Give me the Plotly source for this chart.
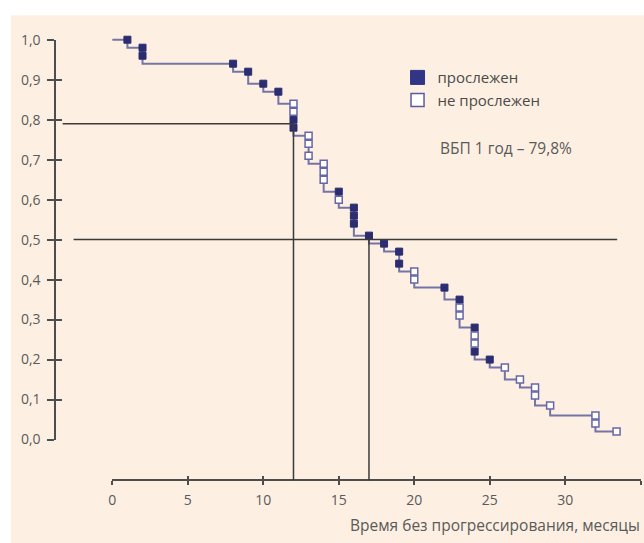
import plotly.graph_objects as go

# ---------------- data ----------------
# Kaplan-Meier step curve: time (months) and survival level after each step
curve_t = [0, 1, 2, 8, 9, 10, 11, 12, 13, 14, 15, 16, 17, 18, 19, 20, 22, 23, 24, 25, 26, 27, 28, 29, 32, 33.4]
curve_s = [1.00, 0.98, 0.94, 0.92, 0.89, 0.87, 0.84, 0.76, 0.69, 0.62, 0.58, 0.51, 0.49, 0.47, 0.42, 0.38,
           0.35, 0.28, 0.20, 0.18, 0.15, 0.13, 0.085, 0.06, 0.02, 0.02]

# "прослежен" (filled squares)
event_t = [1, 2, 2, 8, 9, 10, 11, 12, 12, 15, 16, 16, 16, 17, 18, 19, 19, 22, 23, 24, 24, 25]
event_s = [1.00, 0.98, 0.96, 0.94, 0.92, 0.89, 0.87, 0.80, 0.78, 0.62, 0.58, 0.56, 0.54, 0.51, 0.49,
           0.47, 0.44, 0.38, 0.35, 0.28, 0.22, 0.20]

# "не прослежен" (open squares)
cens_t = [12, 12, 13, 13, 13, 14, 14, 14, 15, 20, 20, 23, 23, 24, 24, 26, 27, 28, 28, 29, 32, 32, 33.4]
cens_s = [0.84, 0.82, 0.76, 0.74, 0.71, 0.69, 0.67, 0.65, 0.60, 0.42, 0.40, 0.33, 0.31, 0.26, 0.24,
          0.18, 0.15, 0.13, 0.11, 0.085, 0.06, 0.04, 0.02]

# reference values
one_year_t = 12
one_year_s = 0.79
median_t = 17
median_s = 0.5

x_tick_vals = [0, 5, 10, 15, 20, 25, 30, 35]
x_tick_labels = ["0", "5", "10", "15", "20", "25", "30", "35"]
y_tick_vals = [0.0, 0.1, 0.2, 0.3, 0.4, 0.5, 0.6, 0.7, 0.8, 0.9, 1.0]
y_tick_labels = ["0,0", "0,1", "0,2", "0,3", "0,4", "0,5", "0,6", "0,7", "0,8", "0,9", "1,0"]

legend_names = ["прослежен", "не прослежен"]
note_text = "ВБП 1 год – 79,8%"
x_title = "Время без прогрессирования, месяцы"

# ---------------- layout geometry (pixels) ----------------
W, H = 644, 543
# the captured page shows rows with a small offset/compression; map target rows to figure rows
CAP_OFF, CAP_SCALE = 7.8, 0.971


def row(d):
    return (d - CAP_OFF) / CAP_SCALE


X0_PX, X35_PX = 109.0, 640.7              # pixel of t=0 and t=35
Y1_PX, Y0_PX = row(37.7), row(440.0)      # pixel of S=1 and S=0
XAXIS_PX = row(481.0)                     # x-axis line (pixel row)
YAXIS_PX = 51.5                           # y-axis line (pixel column)
xu = (X35_PX - X0_PX) / 35.0
yu = (Y0_PX - Y1_PX) / 1.0

x_range = [-X0_PX / xu, (W - X0_PX) / xu]
y_range = [(Y0_PX - H) / yu, Y0_PX / yu]
axis_s = (Y0_PX - XAXIS_PX) / yu          # S value at the x-axis line

FONT = "Open Sans"
TXT = "#5a5a5a"
CURVE = "#7474a6"
NAVY = "#2b2d70"
OPEN_EDGE = "#6767a6"
REF = "#3a3a3a"
CREAM = "#fdf0e2"
AXC = "#4d4d4d"

fig = go.Figure()

# step curve
fig.add_trace(go.Scatter(x=curve_t, y=curve_s, mode="lines", line=dict(shape="hv", color=CURVE, width=2),
                         showlegend=False, hoverinfo="skip"))
# markers
fig.add_trace(go.Scatter(x=event_t, y=event_s, mode="markers",
                         marker=dict(symbol="square", size=7, color=NAVY, line=dict(color=NAVY, width=1)),
                         showlegend=False))
fig.add_trace(go.Scatter(x=cens_t, y=cens_s, mode="markers",
                         marker=dict(symbol="square", size=7, color="white", line=dict(color=OPEN_EDGE, width=1.5)),
                         showlegend=False))
# legend-only traces
fig.add_trace(go.Scatter(x=[None], y=[None], mode="markers", name=legend_names[0],
                         marker=dict(symbol="square", size=14, color="#313586", line=dict(color="#313586", width=1))))
fig.add_trace(go.Scatter(x=[None], y=[None], mode="markers", name=legend_names[1],
                         marker=dict(symbol="square", size=13, color="white", line=dict(color="#5a5aa2", width=1.5))))

# placeholder traces for the visible axes
for ax in ["2", "3"]:
    fig.add_trace(go.Scatter(x=[None], y=[None], xaxis="x" + ax, yaxis="y" + ax, showlegend=False,
                             hoverinfo="skip"))

shapes = [
    dict(type="rect", xref="paper", yref="paper", x0=7 / W, x1=1, y0=-0.1, y1=(H - row(13)) / H,
         fillcolor=CREAM, line=dict(width=0), layer="below"),
    dict(type="line", xref="x", yref="y", x0=(59 - X0_PX) / xu, x1=one_year_t, y0=one_year_s, y1=one_year_s,
         line=dict(color=REF, width=1.5)),
    dict(type="line", xref="x", yref="y", x0=one_year_t, x1=one_year_t, y0=axis_s, y1=one_year_s,
         line=dict(color=REF, width=1.5)),
    dict(type="line", xref="x", yref="y", x0=(70 - X0_PX) / xu, x1=(617 - X0_PX) / xu, y0=median_s, y1=median_s,
         line=dict(color=REF, width=1.5)),
    dict(type="line", xref="x", yref="y", x0=median_t, x1=median_t, y0=axis_s, y1=median_s,
         line=dict(color=REF, width=1.5)),
]

xdom = [X0_PX / W, X35_PX / W]
ydom = [(H - Y0_PX) / H, (H - Y1_PX) / H]
xpos = (H - XAXIS_PX) / H
ypos = YAXIS_PX / W
tickfont = dict(family=FONT, size=14, color=TXT)

fig.update_layout(
    width=W, height=H,
    margin=dict(l=0, r=0, t=0, b=0),
    paper_bgcolor="white",
    plot_bgcolor="rgba(0,0,0,0)",
    shapes=shapes,
    font=dict(family=FONT, color=TXT),
    xaxis=dict(domain=[0, 1], range=x_range, visible=False, fixedrange=True),
    yaxis=dict(domain=[0, 1], range=y_range, visible=False, fixedrange=True),
    xaxis2=dict(domain=xdom, range=[0, 35], anchor="free", position=xpos, showgrid=False, zeroline=False,
                showline=True, linecolor=AXC, linewidth=1.5, ticks="outside", ticklen=4, tickwidth=1.5,
                tickcolor=AXC, tickvals=x_tick_vals, ticktext=x_tick_labels, tickfont=tickfont,
                ticklabelstandoff=3),
    xaxis3=dict(domain=xdom, range=[0, 35], anchor="free", position=xpos, showgrid=False, zeroline=False,
                showline=False, ticks="inside", ticklen=4, tickwidth=1.5, tickcolor=AXC,
                tickvals=x_tick_vals, showticklabels=False),
    yaxis2=dict(domain=ydom, range=[0, 1], anchor="free", position=ypos, showgrid=False, zeroline=False,
                showline=True, linecolor=AXC, linewidth=1.5, ticks="outside", ticklen=7, tickwidth=1.5,
                tickcolor=AXC, tickvals=y_tick_vals, ticktext=y_tick_labels, tickfont=tickfont,
                ticklabelstandoff=4),
    yaxis3=dict(domain=ydom, range=[0, 1], anchor="free", position=ypos, showgrid=False, zeroline=False,
                showline=False, ticks="inside", ticklen=6, tickwidth=1.5, tickcolor=AXC,
                tickvals=y_tick_vals, showticklabels=False),
    legend=dict(x=396 / W, y=(H - 53) / H, xanchor="left", yanchor="top", bgcolor="rgba(0,0,0,0)",
                font=dict(family=FONT, size=15, color="#4a4a4a"), itemsizing="trace", tracegroupgap=0),
    annotations=[
        dict(text=note_text, xref="paper", yref="paper", x=437 / W, y=(H - row(147)) / H, xanchor="left",
             yanchor="middle", showarrow=False, font=dict(family=FONT, size=15.5, color=TXT)),
        dict(text=x_title, xref="paper", yref="paper", x=642 / W, y=(H - row(526)) / H, xanchor="right",
             yanchor="middle", showarrow=False, font=dict(family=FONT, size=15.5, color=TXT)),
    ],
)

fig.write_html(
    "out.html",
    config={"displayModeBar": False},
    post_script=(
        "document.body.style.margin='0';document.body.style.overflow='hidden';"
        "var r=document.documentElement.style;r.backgroundColor='#fdf0e2';"
        "r.backgroundImage='linear-gradient(#ffffff,#ffffff)';r.backgroundSize='100% 50%';"
        "r.backgroundRepeat='no-repeat';"
    ),
)
